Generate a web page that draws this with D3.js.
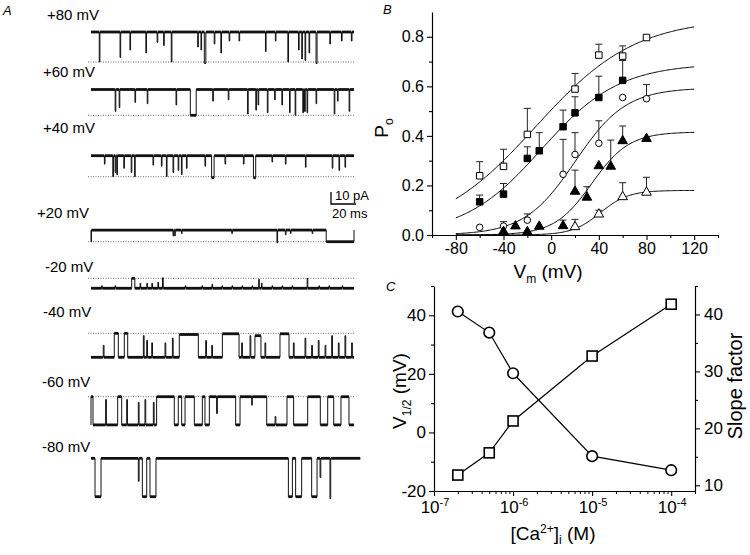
<!DOCTYPE html>
<html><head><meta charset="utf-8">
<script src="https://cdn.jsdelivr.net/npm/d3@7"></script>
<style>
body{margin:0;background:#fff}
text{font-family:"Liberation Sans",Arial,sans-serif;fill:#000}
</style>
</head><body>
<svg id="c" width="750" height="555"></svg>
<script>
// ---------------- DATA ----------------
// Panel A: single-channel traces. Events: [start ms, duration ms, fraction of the way from resting level to event level]
const traceLabels = ["+80 mV", "+60 mV", "+40 mV", "+20 mV", "-20 mV", "-40 mV", "-60 mV", "-80 mV"];
const restCurrent = [25, 21.5, 17.5, 9.7, -8.3, -20, -23.5, 0];   // pA, relative to dotted (closed) level
const eventCurrent = [0, 0, 0, 0, 0, 0, 0, -32];                  // pA level reached by events
const traceDuration = [210, 210, 210, 210, 210, 210, 210, 215];  // ms
const showDotted = [true, true, true, true, true, true, true, false];
const ev80 = [[6.6,0.5,1],[23.2,0.5,0.85],[31.1,0.5,0.6],[43.8,0.5,0.7],[52.8,0.5,0.35],[58,0.5,0.45],[64.1,0.5,1],[85.2,0.5,0.5],[87.8,0.5,0.6],[90.5,1.2,1.05],[98.4,0.5,0.4],[103.7,0.5,0.7],[110.3,0.5,0.3],[118.2,0.5,0.3],[139.3,0.5,0.65],[147.2,0.5,0.3],[157.2,0.5,1],[165.7,0.5,0.6],[168.3,0.5,0.9],[170.9,0.5,0.95],[174.1,0.5,0.7],[179.7,0.8,1.05],[190.7,0.5,0.4],[200,0.5,0.3],[207.9,0.5,0.3]];
const ev60 = [[19.3,0.5,0.85],[22.5,0.5,0.7],[35.1,0.5,0.5],[44.9,0.5,0.55],[67.9,0.5,0.6],[79.3,4.7,1],[97.2,0.5,0.45],[109.6,0.5,0.4],[125,0.5,0.95],[131.6,0.5,0.8],[133.4,0.5,0.6],[140.8,0.5,0.9],[146.6,0.5,0.4],[152.4,0.5,0.6],[158.5,0.5,0.9],[163,0.5,1],[169.1,0.6,0.9],[170.5,0.6,0.85],[172.5,0.5,0.9],[179.7,0.5,0.55],[194.2,0.5,0.95],[196.8,0.5,0.45],[206.1,0.5,0.85]];
const ev40 = [[10.7,0.5,0.4],[17.4,0.6,1],[19.3,0.5,0.8],[20.6,0.5,0.9],[26.2,0.5,0.6],[32.1,0.5,0.8],[34.8,0.5,1],[49.5,0.5,0.45],[56.2,0.5,0.5],[60.2,0.5,1],[65.5,0.5,0.8],[69.6,0.5,0.7],[72.2,0.5,0.9],[76.2,0.5,0.6],[91,0.5,0.5],[96.3,2,1.05],[107,0.5,0.4],[121.7,0.5,0.4],[129.7,1.8,1.05],[144.5,0.5,0.3],[155.2,0.5,0.4],[171.2,0.5,0.55],[192.6,0.5,0.6],[198,0.5,0.7],[202.8,0.5,0.55]];
const ev20 = [[0,0.4,1],[65.5,0.5,0.5],[66.8,0.5,0.5],[72.2,0.5,0.3],[112.4,0.5,0.3],[148.5,0.5,1.1],[155.2,0.5,0.4],[159.2,0.5,0.3],[176.6,0.5,0.3],[187.8,22.2,1]];
const evM20 = [[8.5,0.5,0.25],[19.2,0.5,0.25],[32.5,2.5,1],[39.2,0.5,0.5],[44.6,0.5,0.5],[48.6,0.5,0.5],[53.4,0.5,0.6],[57.1,0.6,1.05],[75.2,0.5,0.25],[88.6,0.5,0.25],[96.6,0.5,0.4],[104.6,0.5,0.25],[112.6,0.5,0.25],[120.6,0.5,0.25],[128.6,0.5,0.25],[133.9,0.5,0.9],[136.1,0.5,0.5],[144.6,0.5,0.25],[152.6,0.5,0.25],[160.6,0.5,0.25],[172.6,0.5,1],[182,0.5,0.25],[190,0.5,0.25],[200.6,0.5,0.25]];
const evM40 = [[9.8,0.6,0.5],[18.6,3.2,1],[26.6,2.7,1],[41.8,0.6,0.9],[44.5,0.6,0.7],[48.5,0.6,0.6],[59.1,0.6,0.6],[65,0.6,0.8],[70.5,15.2,0.95],[91.6,0.6,0.7],[96.4,0.6,0.5],[104.9,13.3,0.98],[120.3,0.6,0.6],[127,0.6,0.9],[130.9,4.8,0.9],[138.9,0.6,0.6],[150.9,7.2,0.98],[161.6,0.6,0.6],[170.9,0.6,0.8],[176.2,0.6,0.5],[181.5,0.6,0.7],[186.9,0.6,0.5],[192.2,0.6,0.9],[197.5,0.6,0.6],[202.8,0.6,0.9],[208.1,0.6,0.6]];
const evM60 = [[0,1.6,1],[11.7,0.6,0.9],[21.3,3.2,1],[28.5,0.6,0.9],[37.8,0.6,0.8],[43.1,0.6,0.9],[49.8,0.6,0.8],[52.4,14.1,1],[69.7,2.7,1],[75.1,7.4,1],[88.9,2.1,1],[94.5,5.8,1],[100.3,0.6,0.4],[100.9,14.6,1],[119,9.3,1],[128.3,0.5,0.7],[128.8,11.5,1],[147,0.6,0.3],[156.5,5.3,1],[173,10.1,1],[189,4.8,1],[199.6,6.4,1]];
const evM80 = [[3.2,4.8,1],[37.8,0.6,0.6],[41,3.5,1],[47.1,4.8,1],[157.6,3.2,1],[163.4,4.8,1],[176.2,4.3,1],[182.9,0.6,0.5],[190.8,0.6,1.05]];
const traceEvents = [ev80, ev60, ev40, ev20, evM20, evM40, evM60, evM80];
const scaleBarPA = 10, scaleBarMS = 20;

// Panel B: open probability vs voltage
const sqOpenV = [-60,-40,-20,20,40,60,80];
const sqOpenP = [0.239,0.277,0.406,0.589,0.726,0.722,0.797];
const sqOpenE = [0.057,0.069,0.105,0.063,0.044,0.041,0];
const sqFillV = [-60,-40,-20,-10,10,20,40,60];
const sqFillP = [0.134,0.165,0.309,0.34,0.437,0.493,0.555,0.624];
const sqFillE = [0.027,0.043,0.047,0.073,0.067,0.065,0.086,0.08];
const circV = [-60,-40,-20,10,20,40,60,80];
const circP = [0.031,0.036,0.06,0.245,0.325,0.37,0.555,0.55];
const circE = [0,0.018,0.025,0.141,0.088,0.091,0,0.057];
const triFillV = [-40,-30,-20,-10,10,20,30,40,50,60,80];
const triFillP = [0.017,0.039,0.016,0.038,0.04,0.179,0.155,0.282,0.28,0.383,0.392];
const triFillE = [0,0,0,0,0.02,0.083,0.04,0,0.103,0.057,0];
const triOpenV = [20,40,60,80];
const triOpenP = [0.036,0.087,0.157,0.175];
const triOpenE = [0.027,0.013,0.054,0.058];
const bXTicks = [-80,-40,0,40,80,120];
const bXMinor = [-100,-60,-20,20,60,100,140];
const bYTicks = [0,0.2,0.4,0.6,0.8];
const bYMinor = [0.1,0.3,0.5,0.7];

// Panel C: Boltzmann fit parameters vs [Ca2+]i
const caConc = [2e-7, 5e-7, 1e-6, 1e-5, 1e-4];
const vHalf = [41.3, 34.1, 20.2, -8.1, -12.9];
const slopeFactor = [11.8, 15.7, 21.3, 32.7, 41.8];
const pMax = [0.18, 0.416, 0.594, 0.692, 0.875];
const cLeftTicks = [-20,0,20,40];
const cLeftMinor = [-10,10,30,50];
const cRightTicks = [10,20,30,40];
const cRightMinor = [15,25,35,45];
const cXTicks = [1e-7,1e-6,1e-5,1e-4];
const cXExp = ["-7","-6","-5","-4"];

// ---------------- DRAW ----------------
const svg = d3.select("#c");

// ===== Panel A =====
svg.append("text").attr("x",3).attr("y",15).attr("font-size",13).attr("font-style","italic").text("A");
const labelPos = [[47,20],[43,77],[43,133],[37,218],[45,272],[43,317],[42,387],[42,452]];
const zeroY = [62,115.3,176.7,241.7,278.3,333.3,396.7,458.3];
const pxPerPA = 1.2;
const xT = d3.scaleLinear().domain([0,210]).range([91,354]);
traceLabels.forEach((lab,i)=>{
  svg.append("text").attr("x",labelPos[i][0]).attr("y",labelPos[i][1]).attr("font-size",15).text(lab);
  const yT = d3.scaleLinear().domain([0,1]).range([zeroY[i], zeroY[i]-pxPerPA]);
  if(showDotted[i]){
    svg.append("line").attr("x1",88).attr("x2",xT(traceDuration[i])).attr("y1",yT(0)).attr("y2",yT(0))
      .attr("stroke","#444").attr("stroke-width",0.8).attr("stroke-dasharray","1,1.5");
  }
  const rest = restCurrent[i], evl = eventCurrent[i];
  const lvl = f => rest + f*(evl-rest);
  const evs = traceEvents[i].slice().sort((a,b)=>a[0]-b[0]);
  let d = `M${xT(0)},${yT(rest)}`;
  const bands = [];
  let last = 0;
  evs.forEach((e,k)=>{
    const s=e[0], en=e[0]+e[1];
    if(s > last+0.01){ d += `L${xT(s)},${yT(rest)}`; bands.push([last,s,rest]); }
    d += `L${xT(s)},${yT(lvl(e[2]))}L${xT(en)},${yT(lvl(e[2]))}`;
    if(e[1]>1.5) bands.push([s,en,lvl(e[2])]);
    const nxt = evs[k+1];
    if(!(nxt && Math.abs(nxt[0]-en)<0.05)) d += `L${xT(en)},${yT(rest)}`;
    last = en;
  });
  if(last < traceDuration[i]){ d += `L${xT(traceDuration[i])},${yT(rest)}`; bands.push([last,traceDuration[i],rest]); }
  svg.append("path").attr("d",d).attr("fill","none").attr("stroke","#111").attr("stroke-width",1);
  bands.forEach(b=>{
    svg.append("line").attr("x1",xT(b[0])).attr("x2",xT(b[1])).attr("y1",yT(b[2])).attr("y2",yT(b[2]))
      .attr("stroke","#111").attr("stroke-width",2.8);
  });
});
// scale bar
{
  const bx = 331, by = 204;
  svg.append("path").attr("d",`M${bx},${by-scaleBarPA*pxPerPA}V${by}H${bx + (xT(scaleBarMS)-xT(0))}`)
    .attr("fill","none").attr("stroke","#000").attr("stroke-width",1.3);
  svg.append("text").attr("x",335).attr("y",200).attr("font-size",13).text(scaleBarPA+" pA");
  svg.append("text").attr("x",332).attr("y",218).attr("font-size",13).text(scaleBarMS+" ms");
}

// ===== Panel B =====
const xB = d3.scaleLinear().domain([-100,140]).range([432,718]);
const yB = d3.scaleLinear().domain([0,0.9]).range([235,12]);
function styleAxis(g, fs){
  g.attr("font-family",null).attr("font-size",null);
  g.selectAll("path.domain").attr("stroke","#000").attr("stroke-width",1.2);
  g.selectAll(".tick line").attr("stroke","#000").attr("stroke-width",1.1);
  g.selectAll(".tick text").attr("font-size",fs).attr("fill","#000");
}
styleAxis(svg.append("g").attr("transform","translate(0,235)")
  .call(d3.axisBottom(xB).tickValues(bXTicks).tickSize(5).tickSizeOuter(0).tickPadding(3).tickFormat(d=>String(d))),16);
svg.append("g").attr("transform","translate(0,235)")
  .call(d3.axisBottom(xB).tickValues(bXMinor).tickSize(3).tickSizeOuter(0).tickFormat(""))
  .call(g=>{g.select(".domain").remove(); g.selectAll("line").attr("stroke","#000").attr("stroke-width",1.1);});
styleAxis(svg.append("g").attr("transform","translate(432,0)")
  .call(d3.axisLeft(yB).tickValues(bYTicks).tickSize(5).tickSizeOuter(0).tickPadding(3).tickFormat(d3.format(".1f"))),16);
svg.append("g").attr("transform","translate(432,0)")
  .call(d3.axisLeft(yB).tickValues(bYMinor).tickSize(3).tickSizeOuter(0).tickFormat(""))
  .call(g=>{g.select(".domain").remove(); g.selectAll("line").attr("stroke","#000").attr("stroke-width",1.1);});

svg.append("text").attr("x",383).attr("y",14).attr("font-size",13).attr("font-style","italic").text("B");
{
  const t = svg.append("text").attr("transform","translate(388,128) rotate(-90)").attr("text-anchor","middle").attr("font-size",19);
  t.append("tspan").text("P");
  t.append("tspan").attr("font-size",12).attr("dy",5).text("o");
}
{
  const t = svg.append("text").attr("x",548).attr("y",278).attr("text-anchor","middle").attr("font-size",19);
  t.append("tspan").text("V");
  t.append("tspan").attr("font-size",12).attr("dy",5).text("m");
  t.append("tspan").attr("dy",-5).text(" (mV)");
}
// fit curves (Boltzmann, parameters from panel C)
const vGrid = d3.range(-80, 120.5, 1);
const line = d3.line().x(d=>xB(d[0])).y(d=>yB(d[1]));
caConc.forEach((c,i)=>{
  const pts = vGrid.map(v=>[v, pMax[i]/(1+Math.exp((vHalf[i]-v)/slopeFactor[i]))]);
  svg.append("path").attr("d",line(pts)).attr("fill","none").attr("stroke","#000").attr("stroke-width",1);
});
const seriesB = [
  {V:sqOpenV,P:sqOpenP,E:sqOpenE,shape:"square",fill:"#fff"},
  {V:sqFillV,P:sqFillP,E:sqFillE,shape:"square",fill:"#000"},
  {V:circV,P:circP,E:circE,shape:"circle",fill:"#fff"},
  {V:triFillV,P:triFillP,E:triFillE,shape:"triangle",fill:"#000"},
  {V:triOpenV,P:triOpenP,E:triOpenE,shape:"triangle",fill:"#fff"}
];
seriesB.forEach(s=>{
  s.V.forEach((v,k)=>{
    if(s.E[k]>0){
      const x = xB(v), y0 = yB(s.P[k]), y1 = yB(s.P[k]+s.E[k]);
      svg.append("path").attr("d",`M${x},${y0}V${y1}M${x-3.5},${y1}H${x+3.5}`)
        .attr("stroke","#222").attr("stroke-width",1).attr("fill","none");
    }
  });
});
const symB = {square:d3.symbolSquare, circle:d3.symbolCircle, triangle:d3.symbolTriangle};
const sizeB = {square:42, circle:34, triangle:40};
seriesB.forEach(s=>{
  s.V.forEach((v,k)=>{
    svg.append("path").attr("d",d3.symbol(symB[s.shape],sizeB[s.shape])())
      .attr("transform",`translate(${xB(v)},${yB(s.P[k]) + (s.shape==="triangle"?0.8:0)})`)
      .attr("fill",s.fill).attr("stroke","#000").attr("stroke-width",1);
  });
});

// ===== Panel C =====
const xC = d3.scaleLog().domain([1e-7,2e-4]).range([434,695]);
const yCL = d3.scaleLinear().domain([-20,50]).range([491,286]);
const yCR = d3.scaleLinear().domain([9,45]).range([491,286]);
styleAxis(svg.append("g").attr("transform","translate(434,0)")
  .call(d3.axisLeft(yCL).tickValues(cLeftTicks).tickSize(5).tickSizeOuter(0).tickPadding(3).tickFormat(d=>String(d))),17);
svg.append("g").attr("transform","translate(434,0)")
  .call(d3.axisLeft(yCL).tickValues(cLeftMinor).tickSize(3).tickSizeOuter(0).tickFormat(""))
  .call(g=>{g.select(".domain").remove(); g.selectAll("line").attr("stroke","#000").attr("stroke-width",1.1);});
styleAxis(svg.append("g").attr("transform","translate(695,0)")
  .call(d3.axisRight(yCR).tickValues(cRightTicks).tickSize(5).tickSizeOuter(0).tickPadding(4).tickFormat(d=>String(d))),17);
svg.append("g").attr("transform","translate(695,0)")
  .call(d3.axisRight(yCR).tickValues(cRightMinor).tickSize(3).tickSizeOuter(0).tickFormat(""))
  .call(g=>{g.select(".domain").remove(); g.selectAll("line").attr("stroke","#000").attr("stroke-width",1.1);});
const minorLog = [];
[1e-7,1e-6,1e-5,1e-4].forEach(dec=>{ for(let m=2;m<=9;m++){ const v=dec*m; if(v<=2e-4) minorLog.push(v);} });
styleAxis(svg.append("g").attr("transform","translate(0,491)")
  .call(d3.axisBottom(xC).tickValues(cXTicks).tickSize(5).tickSizeOuter(0).tickFormat("")),17);
svg.append("g").attr("transform","translate(0,491)")
  .call(d3.axisBottom(xC).tickValues(minorLog).tickSize(3).tickSizeOuter(0).tickFormat(""))
  .call(g=>{g.select(".domain").remove(); g.selectAll("line").attr("stroke","#000").attr("stroke-width",1);});
cXTicks.forEach((v,i)=>{
  const t = svg.append("text").attr("x",xC(v)+1).attr("y",513).attr("text-anchor","middle").attr("font-size",17);
  t.append("tspan").text("10");
  t.append("tspan").attr("font-size",11).attr("dy",-7).text(cXExp[i]);
});
svg.append("text").attr("x",386).attr("y",291).attr("font-size",13).attr("font-style","italic").text("C");
{
  const t = svg.append("text").attr("transform","translate(406,391) rotate(-90)").attr("text-anchor","middle").attr("font-size",19);
  t.append("tspan").text("V");
  t.append("tspan").attr("font-size",12).attr("dy",5).text("1/2");
  t.append("tspan").attr("dy",-5).text(" (mV)");
}
svg.append("text").attr("transform","translate(742,386) rotate(-90)").attr("text-anchor","middle").attr("font-size",20).text("Slope factor");
{
  const t = svg.append("text").attr("x",553).attr("y",540).attr("text-anchor","middle").attr("font-size",19);
  t.append("tspan").text("[Ca");
  t.append("tspan").attr("font-size",12).attr("dy",-7).text("2+");
  t.append("tspan").attr("dy",7).text("]");
  t.append("tspan").attr("font-size",12).attr("dy",4).text("i");
  t.append("tspan").attr("dy",-4).text(" (M)");
}
const lineL = d3.line().x((d,i)=>xC(caConc[i])).y(d=>yCL(d));
const lineR = d3.line().x((d,i)=>xC(caConc[i])).y(d=>yCR(d));
svg.append("path").attr("d",lineL(vHalf)).attr("fill","none").attr("stroke","#000").attr("stroke-width",1.2);
svg.append("path").attr("d",lineR(slopeFactor)).attr("fill","none").attr("stroke","#000").attr("stroke-width",1.2);
caConc.forEach((c,i)=>{
  svg.append("circle").attr("cx",xC(c)).attr("cy",yCL(vHalf[i])).attr("r",5.3)
    .attr("fill","#fff").attr("stroke","#000").attr("stroke-width",1.6);
  svg.append("rect").attr("x",xC(c)-5).attr("y",yCR(slopeFactor[i])-5).attr("width",10).attr("height",10)
    .attr("fill","#fff").attr("stroke","#000").attr("stroke-width",1.6);
});
</script>
</body></html>
